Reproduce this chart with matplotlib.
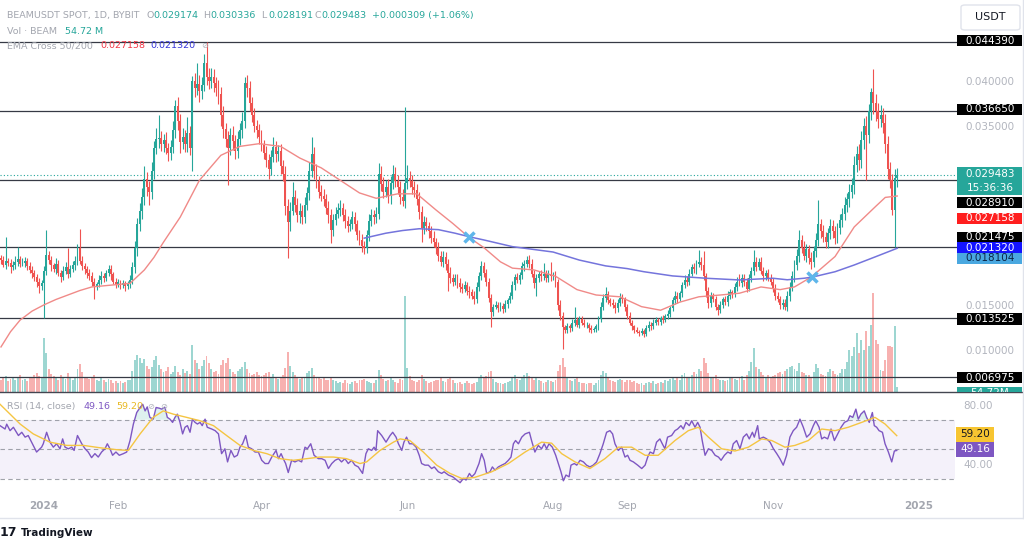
import numpy as np
import matplotlib
matplotlib.use("Agg")
import matplotlib.pyplot as plt
from matplotlib.patches import Rectangle, FancyBboxPatch
from matplotlib.ticker import FormatStrFormatter
from matplotlib.transforms import Bbox, TransformedBbox

plt.rcParams['font.family'] = ['DejaVu Sans']

# BEAMUSDT daily candles, 14 Dec 2023 .. 23 Dec 2024
# prices in units of 0.0001 USDT, volumes in millions of BEAM
first_open = 202

closes = [
    # Dec 2023 (14th..31st)
    200, 195, 199, 197, 192, 194, 198, 201, 196, 197, 199, 193, 189, 186, 181, 175, 171, 174,
    # Jan
    188, 206, 200, 194, 190, 196, 186, 181, 188, 192, 185, 190, 194, 199, 214, 199,
    193, 190, 186, 182, 176, 171, 173, 178, 182, 180, 186, 190, 184, 176, 173,
    # Feb
    175, 172, 174, 171, 173, 178, 192, 213, 240, 255, 270, 290, 282, 276, 300,
    325, 335, 336, 330, 334, 325, 320, 326, 345, 372, 355, 332, 338, 330,
    # Mar
    342, 325, 400, 392, 397, 389, 396, 420, 405, 400, 405, 398, 392, 385, 362, 346,
    335, 325, 340, 333, 322, 335, 345, 355, 398, 392, 375, 362, 350, 345, 338,
    # Apr
    328, 320, 312, 302, 315, 326, 318, 322, 305, 296, 260, 242, 255, 270, 262,
    250, 255, 248, 262, 275, 300, 318, 300, 288, 276, 272, 268, 258, 250, 234,
    # May
    245, 252, 256, 258, 250, 244, 238, 240, 248, 240, 228, 222, 216, 213, 228, 244,
    250, 248, 252, 296, 285, 276, 282, 272, 286, 296, 288, 282, 270, 266, 286,
    # Jun
    292, 288, 282, 278, 268, 254, 236, 242, 238, 232, 225, 220, 214, 205, 198,
    203, 196, 186, 180, 176, 180, 174, 170, 168, 172, 166, 164, 160, 156, 170,
    # Jul
    182, 193, 186, 175, 158, 142, 148, 150, 146, 149, 145, 151, 155, 160, 172, 181,
    178, 183, 193, 196, 200, 196, 185, 174, 180, 184, 182, 185, 180, 184, 182,
    # Aug
    183, 175, 150, 138, 125, 122, 126, 124, 130, 133, 128, 134, 130, 127, 128, 124,
    122, 123, 126, 134, 148, 158, 162, 155, 152, 150, 146, 152, 158, 156, 148,
    # Sep
    138, 130, 126, 122, 120, 118, 121, 117, 124, 128, 126, 130, 133, 131, 135,
    133, 137, 140, 146, 155, 160, 157, 163, 172, 178, 176, 185, 192, 190, 196,
    # Oct
    198, 194, 182, 165, 152, 160, 156, 148, 144, 150, 156, 153, 160, 164, 162, 170,
    176, 174, 180, 176, 168, 180, 188, 198, 192, 198, 188, 182, 186, 180, 176,
    # Nov
    168, 160, 157, 150, 152, 148, 160, 170, 182, 195, 205, 222, 214, 205, 212,
    202, 198, 210, 222, 240, 232, 226, 220, 230, 238, 232, 225, 236, 245, 252,
    # Dec (1st..23rd)
    262, 268, 276, 284, 306, 318, 312, 334, 350, 340, 366, 388, 375, 366, 358,
    362, 353, 330, 302, 289, 256, 291.74, 294.83,
]

# wick length above / below the candle body, 0.0001 USDT
wick_hi = [
    4, 5, 27, 3, 4, 5, 6, 14, 3, 5, 4, 3, 5, 4, 3, 4, 5, 4,
    5, 28, 4, 5, 3, 6, 4, 3, 5, 6, 22, 4, 5, 6, 4, 21, 5, 4, 3, 4, 5, 4, 3, 5, 6, 4, 3, 5, 4, 3, 4,
    4, 3, 4, 3, 4, 5, 6, 8, 7, 9, 10, 15, 8, 6, 10, 8, 12, 26, 8, 7, 9, 6, 8, 10, 7, 10, 8, 9, 7,
    18, 8, 6, 9, 23, 10, 8, 10, 24, 9, 10, 8, 7, 9, 8, 10, 7, 9, 8, 10, 7, 9, 8, 10, 7, 9, 8, 7, 8, 6, 7,
    7, 6, 7, 6, 8, 12, 7, 6, 8, 7, 9, 8, 10, 17, 8, 7, 9, 6, 8, 7, 9, 19, 8, 7, 6, 8, 7, 6, 8, 7,
    6, 7, 8, 9, 6, 7, 5, 6, 7, 6, 5, 6, 7, 5, 6, 8, 7, 6, 7, 12, 9, 8, 7, 9, 8, 10, 8, 7, 6, 9, 85,
    14, 8, 7, 6, 7, 8, 6, 7, 6, 5, 6, 7, 5, 6, 5, 7, 6, 5, 6, 5, 4, 5, 6, 4, 5, 4, 5, 4, 5, 6,
    5, 6, 5, 4, 5, 4, 3, 4, 3, 4, 3, 4, 3, 4, 5, 4, 5, 4, 5, 4, 5, 6, 5, 4, 5, 4, 5, 12, 4, 5, 14,
    4, 5, 4, 5, 4, 3, 4, 3, 4, 15, 3, 4, 3, 4, 3, 2, 3, 2, 3, 4, 5, 4, 8, 4, 3, 4, 3, 4, 5, 4, 3,
    3, 4, 3, 2, 3, 2, 3, 2, 3, 4, 3, 4, 3, 2, 3, 4, 3, 4, 3, 4, 5, 4, 3, 4, 5, 4, 5, 4, 5, 4,
    13, 5, 16, 4, 5, 4, 3, 4, 3, 4, 3, 4, 5, 4, 3, 4, 5, 8, 4, 5, 4, 5, 4, 13, 5, 4, 5, 4, 3, 4, 5,
    4, 5, 4, 3, 4, 5, 6, 5, 6, 5, 7, 12, 6, 7, 6, 5, 7, 6, 8, 27, 6, 7, 5, 6, 8, 7, 6, 5, 7, 6,
    8, 7, 9, 8, 10, 9, 12, 10, 9, 11, 8, 4, 25, 10, 9, 11, 8, 10, 9, 8, 7, 10, 8.53,
]
wick_lo = [
    4, 3, 5, 4, 6, 3, 4, 5, 4, 3, 5, 4, 3, 6, 4, 5, 8, 4,
    39, 5, 4, 6, 3, 5, 4, 6, 3, 4, 5, 4, 3, 5, 4, 3, 4, 5, 6, 4, 5, 15, 4, 3, 5, 4, 3, 4, 6, 3, 4,
    3, 4, 3, 5, 3, 4, 5, 6, 8, 7, 9, 8, 10, 14, 8, 9, 7, 10, 8, 9, 7, 9, 8, 6, 9, 10, 12, 8, 9,
    9, 8, 25, 10, 8, 12, 9, 7, 10, 9, 8, 10, 9, 11, 12, 10, 9, 41, 8, 10, 9, 8, 7, 9, 8, 10, 9, 8, 7, 9, 8,
    6, 7, 8, 12, 7, 6, 8, 7, 9, 8, 10, 40, 9, 5, 8, 7, 9, 8, 7, 6, 8, 7, 9, 8, 7, 6, 8, 7, 9, 15,
    7, 6, 5, 7, 6, 8, 7, 6, 5, 7, 6, 5, 7, 6, 5, 7, 6, 8, 7, 6, 8, 7, 6, 8, 9, 7, 6, 8, 7, 6, 8,
    7, 6, 8, 7, 6, 8, 16, 7, 6, 7, 6, 5, 7, 6, 5, 6, 7, 20, 6, 5, 4, 5, 6, 5, 4, 5, 6, 4, 5, 4,
    5, 4, 5, 4, 5, 17, 4, 3, 4, 3, 4, 3, 4, 3, 4, 5, 4, 5, 4, 5, 4, 5, 4, 5, 14, 4, 5, 4, 5, 4, 5,
    4, 5, 6, 5, 24, 4, 3, 4, 3, 4, 3, 4, 3, 2, 3, 4, 3, 2, 3, 4, 3, 4, 5, 4, 3, 4, 5, 4, 3, 4, 5,
    4, 3, 4, 3, 2, 3, 2, 3, 2, 3, 4, 3, 2, 3, 4, 3, 2, 3, 4, 3, 4, 5, 3, 4, 3, 5, 4, 3, 4, 5,
    4, 5, 4, 6, 5, 4, 3, 4, 5, 3, 4, 3, 4, 3, 4, 3, 4, 3, 4, 5, 4, 3, 4, 5, 4, 3, 4, 5, 4, 3, 4,
    4, 5, 4, 5, 5, 4, 5, 6, 5, 7, 6, 7, 6, 5, 7, 6, 8, 6, 7, 6, 7, 6, 6, 7, 6, 7, 7, 6, 7, 8,
    7, 8, 9, 7, 10, 8, 11, 9, 10, 51, 9, 10, 12, 11, 10, 9, 11, 10, 12, 9, 6, 41, 9.83,
]

volumes = [
    150, 180, 210, 140, 170, 200, 160, 190, 230, 150, 170, 140, 200, 180, 220, 250, 210, 190,
    720, 520, 300, 240, 210, 180, 160, 220, 190, 170, 250, 200, 150, 180, 300, 370,
    260, 200, 180, 170, 190, 220, 160, 140, 180, 150, 130, 170, 150, 120, 140,
    120, 140, 110, 130, 150, 160, 280, 420, 500, 460, 380, 440, 350, 300, 330,
    420, 480, 360, 300, 260, 280, 330, 240, 260, 350, 270, 220, 300, 250,
    280, 240, 630, 420, 380, 300, 340, 420, 480, 390, 300, 260, 280, 240, 360, 420,
    380, 450, 300, 260, 240, 280, 310, 330, 400, 300, 250, 220, 240, 260, 230,
    210, 220, 250, 270, 200, 240, 180, 170, 200, 230, 320, 530, 350, 260, 220,
    180, 170, 200, 190, 250, 280, 320, 230, 200, 180, 170, 190, 160, 150, 200,
    160, 140, 120, 130, 110, 150, 120, 100, 130, 140, 120, 150, 160, 170, 140, 130,
    120, 110, 150, 290, 220, 170, 140, 160, 180, 150, 130, 120, 170, 150, 1290,
    320, 210, 160, 140, 130, 150, 230, 170, 140, 120, 130, 140, 150, 160, 180,
    140, 130, 170, 200, 150, 120, 110, 130, 100, 120, 140, 110, 100, 120, 130,
    190, 230, 180, 210, 260, 280, 170, 130, 110, 120, 100, 110, 130, 140, 200, 220,
    170, 150, 180, 230, 250, 210, 190, 160, 200, 150, 140, 120, 130, 150, 140,
    130, 160, 280, 360, 450, 330, 200, 160, 140, 170, 190, 130, 120, 110, 100, 120,
    110, 90, 110, 150, 230, 280, 250, 180, 150, 140, 130, 160, 170, 150, 130,
    160, 150, 130, 140, 120, 100, 110, 90, 120, 130, 110, 140, 100, 120, 130,
    110, 150, 140, 170, 200, 160, 180, 150, 220, 250, 200, 190, 230, 260, 240,
    300, 280, 450, 380, 250, 200, 180, 220, 170, 150, 160, 140, 150, 180, 200, 170,
    160, 190, 210, 150, 220, 280, 400, 590, 330, 300, 260, 220, 200, 230, 190,
    210, 230, 250, 260, 240, 280, 300, 330, 350, 300, 280, 380, 270, 250, 220,
    230, 200, 260, 370, 320, 240, 230, 210, 260, 300, 280, 240, 220, 250, 300,
    300, 400, 565, 480, 600, 790, 520, 700, 560, 815, 620, 900, 1330, 700, 640,
    290, 280, 420, 610, 610, 600, 880, 55,
]

# EMA 50 / 200 (day from 1 Jan 2024, 0.0001 USDT)
ema50_days = [-18, -14, -10, -5, 0, 5, 10, 15, 20, 28, 36, 42, 46, 50, 57, 65, 74, 82, 90,
              99, 107, 116, 124, 132, 139, 148, 156, 164, 171, 178, 184, 191, 196, 205,
              214, 223, 231, 241, 250, 258, 266, 274, 283, 291, 300, 308, 314, 321, 331,
              339, 348, 352, 357]
ema50_vals = [103, 120, 133, 143, 150, 156, 161, 166, 170, 172, 174, 189, 203, 220, 248, 289,
              317, 327, 330, 327, 314, 303, 289, 275, 269, 274, 274, 256, 241, 225, 214,
              198, 191, 189, 182, 167, 161, 159, 148, 144, 153, 159, 161, 163, 170, 167,
              170, 181, 204, 237, 260, 270, 271.58]
ema200_days = [134, 143, 150, 157, 165, 172, 178, 184, 196, 213, 224, 235, 244, 251, 263,
               277, 291, 305, 311, 318, 321.5, 331, 339, 348, 357]
ema200_vals = [224.5, 230, 233, 235, 234, 230, 226, 222.5, 215, 209, 200, 193.5, 190.5, 187,
               182.3, 179.7, 177.8, 179.7, 178, 179.7, 181, 187, 194.5, 203.8, 213.2]
cross_days = [178, 321.5]
cross_vals = [225.5, 181.04]

# RSI(14) and its moving average
rsi_days = [
    -18.4, -16.3, -15.6, -14.2, -12.8, -10.7, -9.3, -7.9, -6.6, -4.5, -3.1, -1.0, -0.3, 1.1,
    2.5, 3.9, 5.3, 6.7, 7.8, 8.8, 10.2, 11.6, 12.6, 14.0, 15.8, 17.2, 18.5, 19.9, 21.3, 22.7,
    24.1, 25.5, 26.5, 27.6, 28.7, 30.1, 31.5, 33.2, 34.6, 36.0, 37.4, 38.8, 40.2, 41.3, 42.3,
    43.2, 44.3, 45.7, 46.9, 48.3, 49.2, 50.6, 51.6, 52.7, 53.8, 54.8, 55.8, 56.9, 58.0, 59.0,
    60.0, 61.1, 62.1, 63.2, 64.2, 65.3, 66.2, 67.4, 68.3, 70.2, 71.6, 73.0, 74.3, 75.7, 76.8,
    78.2, 79.6, 80.9, 82.0, 83.1, 84.4, 85.5, 86.9, 88.3, 89.7, 91.1, 92.5, 93.9, 95.3, 97.1,
    98.1, 99.2, 100.1, 101.1, 102.2, 103.6, 105.0, 106.4, 107.8, 109.2, 110.2, 111.6, 113.0,
    114.8, 116.2, 117.6, 119.0, 120.4, 121.8, 123.2, 124.5, 125.9, 127.3, 128.7, 130.1, 131.5,
    133.3, 134.7, 135.7, 137.1, 138.1, 138.9, 139.6, 141.3, 143.1, 144.8, 145.9, 147.3, 148.3,
    149.7, 150.6, 151.7, 152.9, 154.3, 155.7, 157.0, 158.0, 159.4, 160.8, 162.2, 163.3, 165.0,
    166.4, 167.4, 169.2, 171.0, 172.7, 174.1, 175.5, 176.6, 178.0, 179.0, 180.3, 182.0, 183.1,
    184.2, 185.2, 186.6, 187.6, 188.7, 190.1, 191.5, 192.9, 194.3, 195.4, 196.4, 197.3, 198.5,
    199.9, 201.3, 203.1, 204.0, 205.4, 206.8, 208.2, 209.3, 210.3, 211.3, 212.7, 214.1, 215.2,
    216.3, 217.3, 218.4, 219.7, 220.5, 221.9, 222.9, 224.3, 225.7, 227.0, 228.4, 229.8, 231.2,
    232.6, 234.0, 235.4, 236.8, 237.9, 238.9, 240.3, 241.7, 243.1, 244.2, 245.2, 246.6, 248.4,
    250.1, 251.5, 252.6, 253.6, 255.0, 256.3, 257.7, 258.7, 259.8, 260.9, 262.6, 264.0, 265.1,
    266.5, 267.5, 268.6, 270.0, 271.0, 272.4, 273.5, 274.5, 275.4, 276.6, 278.0, 279.4, 280.8,
    282.2, 283.3, 284.7, 286.1, 287.4, 288.4, 289.8, 291.2, 292.6, 294.0, 295.1, 296.4, 297.2,
    298.6, 299.3, 301.0, 302.4, 303.8, 305.2, 306.6, 307.9, 309.3, 310.7, 312.1, 313.5, 314.9,
    316.3, 317.7, 319.1, 320.5, 321.9, 322.9, 324.3, 325.4, 326.5, 327.9, 329.3, 330.7, 332.1,
    333.5, 334.9, 336.3, 337.2, 338.4, 339.7, 340.7, 341.8, 343.2, 344.2, 345.3, 346.6, 347.4,
    348.4, 349.4, 350.8, 351.9, 353.3, 354.7, 355.8, 356.8,
]
rsi_vals = [
    66, 63.7, 67, 62.6, 64.9, 59.3, 61.5, 58.2, 59.3, 52.6, 48.1, 51.4, 53.7, 61.5,
    54.8, 51.4, 53.7, 50.3, 57, 51.4, 50.3, 51.4, 49.2, 59.3, 53.7, 50.3, 48.1, 44.3, 47, 44.7,
    48.1, 50.3, 53.7, 50.3, 45.9, 48.1, 45.9, 47, 48.1, 55.9, 67.1, 74.9, 78.3, 80.5, 76,
    78.7, 71.6, 70.4, 78.3, 77.8, 77.2, 78.3, 71.6, 70.4, 68.2, 71.6, 73.8, 68.2, 60.4, 64.9,
    66, 61.5, 70.4, 68.2, 67.1, 68.2, 66, 70.4, 64.9, 63.7, 62.6, 60.4, 47, 50.3, 41.4,
    49.2, 44.7, 45.9, 51.4, 53.7, 59.3, 51.4, 50.3, 48.1, 48.1, 42.5, 40.3, 40.3, 44.7, 49.2,
    43.6, 47, 43.6, 40.3, 34.2, 42.5, 41.4, 42.5, 41.4, 51.4, 50.3, 53.7, 45.9,
    43.6, 43.6, 42.5, 36.9, 40.3, 42.5, 43.6, 41.4, 43.6, 40.3, 42.5, 39.2, 38,
    33.6, 47, 50.3, 49.2, 51.4, 49.2, 62.6, 59.3, 54.8, 59.3, 61.5, 58.2, 53.7,
    49.2, 54.8, 58.2, 53.7, 53.7, 51.4, 45.9, 40.3, 39.2, 39.2, 36.9, 38, 34.7,
    33.6, 34.7, 32.5, 31.3, 29.1, 27.3, 30.2, 29.1, 33.6, 31.3, 33.5, 40.3, 47,
    42.5, 33.6, 34.7, 38, 35.8, 38, 39.2, 40.3, 42.5, 44.7, 53.7, 55.9, 53.7,
    58.2, 60.4, 61.5, 55.9, 48.1, 52.6, 50.3, 53.7, 50.3, 53.7, 51.4, 45.9, 40.3,
    34.7, 28.6, 32.5, 31.3, 39.2, 40.3, 39.2, 42.5, 41.4, 39.2, 38, 39.2, 41.4,
    47, 53.7, 61.5, 62.6, 60.4, 53.7, 49.2, 51.4, 44.7, 45.9, 42.5, 41.4, 39.2,
    36.9, 39.2, 44.7, 48.1, 47, 54.8, 57, 53.7, 50.3, 58.2, 59.3, 62.6, 63.7,
    66, 63.7, 68.2, 66, 69.3, 64.9, 68.2, 64.9, 55.9, 45.9, 50.3, 49.2, 45.9,
    44.7, 42.5, 45.9, 48.1, 47, 53.7, 55.9, 50.3, 58.2, 60.4, 57, 61.5, 58.2,
    66, 57, 58.2, 57, 54.8, 50.3, 47, 43.6, 39.2, 45.9, 58.2, 62.6, 64.9,
    70.4, 64.9, 58.2, 60.4, 66, 69.3, 64.9, 57, 58.2, 57, 63.7, 55.9, 60.4,
    64.9, 68.2, 69.3, 72.7, 71.6, 77.2, 70.4, 73.8, 76, 71.6, 68.2, 74.9, 66,
    64.9, 62.6, 61.5, 53.7, 48.1, 41.4, 48.8, 49.16,
]
rsi_ma_days = [-18.4, -14.2, -10.0, -4.5, 2.5, 9.5, 16.5, 23.4, 30.4, 35.3, 40.2, 45.7, 49.9,
               54.1, 59.7, 65.3, 70.9, 76.4, 82.0, 87.6, 93.2, 98.7, 104.3, 109.9, 115.5,
               121.1, 126.6, 132.2, 135.0, 140.6, 146.2, 149.0, 153.1, 158.7, 164.3, 169.9,
               174.8, 180.0, 187.3, 194.3, 201.3, 208.2, 212.4, 216.6, 222.2, 228.4, 234.7,
               240.3, 245.9, 251.5, 257.0, 264.0, 269.6, 273.8, 278.0, 283.5, 289.1, 294.7,
               300.3, 304.5, 310.0, 314.2, 319.8, 325.4, 331.0, 336.5, 342.1, 347.7, 351.9,
               356.8]
rsi_ma_vals = [80.5, 73.8, 67.1, 60.4, 54.8, 52.6, 52.6, 51, 49.7, 49.2, 60.4, 71.6, 76,
               73.8, 71.6, 69.3, 66, 59.3, 52.6, 49.2, 47, 43.6, 42.5, 43.6, 44.7,
               44.7, 43.6, 40.3, 41.4, 49.2, 54.8, 57, 55.9, 48.1, 39.2, 33.6,
               30.2, 30.8, 34.7, 40.3, 48.1, 54.8, 54.1, 47, 41.4, 36.9, 43.6,
               51.4, 51.4, 45.9, 45.9, 55.9, 62.6, 64.9, 58.2, 50.3, 48.8, 51.4,
               57, 55.9, 51.4, 52.6, 55.9, 63.7, 62.6, 64.9, 68.2, 71.6, 67.1,
               59.2]

levels = [0.044390, 0.036650, 0.028910, 0.021475, 0.013525, 0.006975]
last_price = 0.029483

month_days = [0, 31, 91, 152, 213, 244, 305, 366]
month_labels = ['2024', 'Feb', 'Apr', 'Jun', 'Aug', 'Sep', 'Nov', '2025']

# ---------------------------------------------------------------------------
GREEN, RED = '#26a69a', '#ef5350'
GREY = '#b2b5be'

n = len(closes)
days = np.arange(n) - 18
c = np.array(closes, dtype=float) / 1e4
o = np.r_[first_open / 1e4, c[:-1]]
hi = np.maximum(o, c) + np.array(wick_hi) / 1e4
lo = np.minimum(o, c) - np.array(wick_lo) / 1e4
up = c >= o
cols = np.where(up, GREEN, RED)

W, H = 1024, 542
fig = plt.figure(figsize=(W / 100, H / 100), dpi=100)
fig.patch.set_facecolor('white')


def fx(px):
    return px / W


def fy(py):
    return 1 - py / H


def px2day(px):
    return (px - 44) / 2.39


# main price panel
ax = fig.add_axes([0, fy(391.5), fx(957), 391.5 / H])
axv = ax.twinx()
ax.set_zorder(axv.get_zorder() + 1)
ax.patch.set_visible(False)

axv.bar(days, volumes, width=0.8, color=cols, alpha=0.45, linewidth=0)
axv.set_ylim(0, 5300)
axv.axis('off')

for lvl in levels:
    ax.axhline(lvl, color='#363a45', lw=0.9, zorder=1)
ax.axhline(last_price, color=GREEN, lw=0.8, ls=(0, (1, 2)), zorder=1)

ax.vlines(days, lo, hi, colors=cols, lw=0.8, zorder=2)
ax.bar(days, np.maximum(np.abs(c - o), 2e-5), bottom=np.minimum(o, c), width=0.8,
       color=cols, linewidth=0, zorder=3)

ax.plot(ema50_days, np.array(ema50_vals) / 1e4, color='#f08a88', lw=1.0, zorder=4)
ax.plot(ema200_days, np.array(ema200_vals) / 1e4, color='#7474dc', lw=1.1, zorder=4)
ax.plot(cross_days, np.array(cross_vals) / 1e4, 'x', color='#5fb6ea', ms=6.5, mew=2.5, zorder=5)

ax.set_xticks([])
ax.set_yticks([0.010, 0.015, 0.035, 0.040])
ax.yaxis.set_major_formatter(FormatStrFormatter('%.6f'))
ax.yaxis.tick_right()
ax.tick_params(axis='y', length=0, pad=5.8, labelsize=7.5, labelcolor=GREY)
ax.set_xlim(px2day(0), px2day(957))
axv.set_xlim(px2day(0), px2day(957))
ax.set_ylim((439.15 - 391.5) / 8953.6, 439.15 / 8953.6)
for s in ax.spines.values():
    s.set_visible(False)

# RSI panel
axr = fig.add_axes([0, fy(492), fx(955), (492 - 391.5) / H])
axr.axhspan(30, 70, color='#7e57c2', alpha=0.08, lw=0)
for lvl in (70, 50, 30):
    axr.axhline(lvl, color='#8a8d96', lw=0.8, ls=(0, (4, 3)), alpha=0.8)
rd = np.array(rsi_days)
rv = np.array(rsi_vals)
axr.fill_between(rd, 70, rv, where=rv > 70, interpolate=True, color=GREEN, alpha=0.15, lw=0)
axr.fill_between(rd, 30, rv, where=rv < 30, interpolate=True, color=RED, alpha=0.12, lw=0)
axr.plot(rd, rv, color='#7e57c2', lw=1.0)
axr.plot(rsi_ma_days, rsi_ma_vals, color='#f5c542', lw=1.0)
axr.set_yticks([40, 80])
axr.yaxis.set_major_formatter(FormatStrFormatter('%.2f'))
axr.yaxis.tick_right()
axr.tick_params(axis='y', length=0, pad=5.8, labelsize=7.5, labelcolor=GREY)
axr.set_xticks(month_days)
axr.set_xticklabels(month_labels)
axr.tick_params(axis='x', length=0, pad=6.5, labelsize=7.5, labelcolor='#a3a6af')
for t in axr.get_xticklabels():
    if t.get_text() in ('2024', '2025'):
        t.set_fontweight('bold')
axr.set_xlim(px2day(0), px2day(955))
axr.set_ylim(21.0, 89.15)
for s in axr.spines.values():
    s.set_visible(False)

# separators
fig.add_artist(plt.Line2D([0, fx(1022)], [fy(391.5)] * 2, color='#434651', lw=1.0))
fig.add_artist(plt.Line2D([0, 1], [fy(518)] * 2, color='#e0e3eb', lw=1.0))
fig.add_artist(plt.Line2D([fx(1022.5)] * 2, [fy(0), fy(518)], color='#e0e3eb', lw=1.0))


# price scale tags
def tag(ypx, text, fc, tc='white', h=11.5, size=7.5):
    fig.add_artist(Rectangle((fx(957), fy(ypx + h / 2)), fx(65), h / H,
                             transform=fig.transFigure, facecolor=fc, edgecolor='none',
                             zorder=5))
    return fig.text(fx(990), fy(ypx), text, color=tc, fontsize=size, ha='center',
                    va='center', zorder=6)


tag(40.7, '0.044390', 'black')
tag(109.3, '0.036650', 'black')
fig.add_artist(Rectangle((fx(957), fy(195)), fx(65), 28 / H, transform=fig.transFigure,
                         facecolor=GREEN, edgecolor='none', zorder=5))
fig.text(fx(990), fy(174), '0.029483', color='white', fontsize=7.5, ha='center',
         va='center', zorder=6)
fig.text(fx(990), fy(188), '15:36:36', color='white', fontsize=7.5, ha='center',
         va='center', zorder=6)
tag(202.7, '0.028910', 'black')
tag(218.3, '0.027158', '#ff1e1e')
tag(237.3, '0.021475', 'black')
tag(247.7, '0.021320', '#1414ff')
tag(258.3, '0.018104', '#4aa8e0', tc='#0b2545')
tag(319, '0.013525', 'black')
tag(377.7, '0.006975', 'black')

# volume tag, cut by the panel edge as in the screenshot
vol_tag = tag(393, '54.72M', GREEN)
clip = TransformedBbox(Bbox([[fx(957), fy(391.5)], [fx(1022), fy(386)]]), fig.transFigure)
vol_tag.set_clip_box(clip)
vol_tag.set_clip_on(True)
fig.patches[-1].set_clip_box(clip) if fig.patches else None
for art in fig.artists[-1:]:
    art.set_clip_box(clip)
    art.set_clip_on(True)

# USDT button
fig.add_artist(FancyBboxPatch((fx(961), fy(30)), fx(59), 25 / H,
                              boxstyle='round,pad=0,rounding_size=0.004',
                              transform=fig.transFigure, facecolor='white',
                              edgecolor='#e0e3eb', lw=1.0, zorder=5))
fig.text(fx(990.5), fy(17.5), 'USDT', color='#131722', fontsize=8, ha='center', va='center',
         zorder=6)

# RSI tags
for ypx, text, fc, tc in [(434.2, '59.20', '#f7c531', '#131722'),
                          (449.4, '49.16', '#7e57c2', 'white')]:
    fig.add_artist(Rectangle((fx(956), fy(ypx + 7.5)), fx(38), 15 / H,
                             transform=fig.transFigure, facecolor=fc, edgecolor='none',
                             zorder=5))
    fig.text(fx(975), fy(ypx), text, color=tc, fontsize=7.5, ha='center', va='center',
             zorder=6)

# legends
LS = 6.8


def put(xpx, ypx, text, color, size=LS, **kw):
    fig.text(fx(xpx), fy(ypx), text, color=color, fontsize=size, ha='left', va='center',
             zorder=7, **kw)


put(7, 15.3, 'BEAMUSDT SPOT, 1D, BYBIT', '#a3a6af')
for xp, lab, val in [(146.5, 'O', '0.029174'), (203.5, 'H', '0.030336'),
                     (261.5, 'L', '0.028191'), (314.5, 'C', '0.029483')]:
    put(xp, 15.3, lab, '#a3a6af')
    put(xp + 7, 15.3, val, GREEN)
put(372, 15.3, '+0.000309 (+1.06%)', GREEN)
put(7, 31.7, 'Vol · BEAM', '#a3a6af')
put(65, 31.7, '54.72 M', GREEN)
put(7, 46, 'EMA Cross 50/200', '#a3a6af')
put(100, 46, '0.027158', '#f23645')
put(150, 46, '0.021320', '#3535d8')
put(201, 46, '⊘', '#b2b5be', size=6)
put(7, 406.7, 'RSI (14, close)', '#a3a6af')
put(83, 406.7, '49.16', '#7e57c2')
put(116, 406.7, '59.20', '#e8b923')
put(147, 406.7, '⊘', '#b2b5be', size=6)
put(160, 406.7, '⊘', '#b2b5be', size=6)

# TradingView mark
put(0, 533, '17', '#131722', size=9, fontweight='heavy')
put(21, 533, 'TradingView', '#131722', size=7.5, fontweight='bold')

fig.savefig('out.png', dpi=100, facecolor='white')
